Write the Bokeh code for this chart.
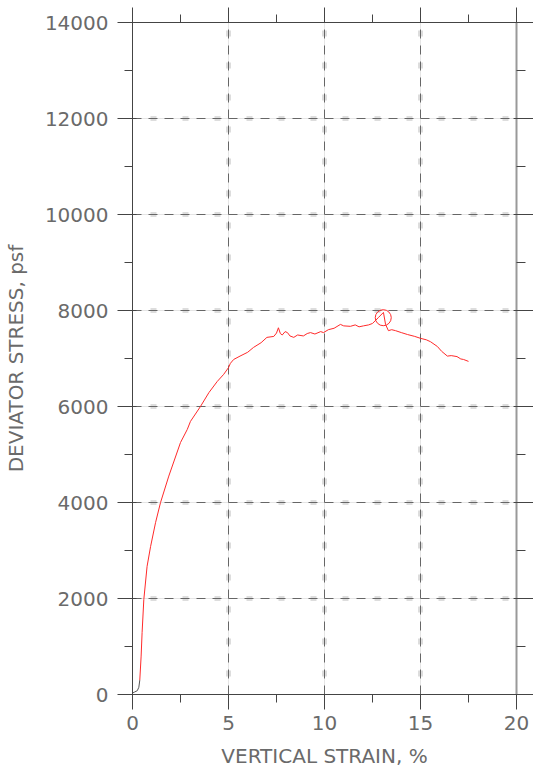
from bokeh.plotting import figure
from bokeh.models import Range1d, LinearAxis, SingleIntervalTicker, Grid, CustomJSTickFormatter, Spacer
from bokeh.layouts import column
from bokeh.embed import file_html
from bokeh.resources import INLINE

# ---- data ----
strain_start = [0.0, 0.1, 0.25, 0.33, 0.38]
stress_start = [30, 50, 80, 150, 300]

strain = [0.38, 0.45, 0.5, 0.59, 0.76, 0.94, 1.2, 1.46, 1.89, 2.5, 2.85, 3.02, 3.54,
          3.98, 4.41, 4.75, 5.0, 5.1, 5.27, 5.6, 6.0, 6.3, 6.7, 7.0, 7.36, 7.5, 7.6,
          7.7, 7.8, 7.95, 8.07, 8.2, 8.4, 8.6, 8.9, 9.1, 9.27, 9.5, 9.8, 9.95, 10.2,
          10.5, 10.83, 11.0, 11.35, 11.6, 11.8, 12.03, 12.3, 12.5, 12.8, 13.07, 13.18,
          13.33, 13.5, 13.7, 14.0, 14.32, 14.7, 15.0, 15.3, 15.52, 15.88, 16.1, 16.4,
          16.6, 16.9, 17.1, 17.24, 17.5]
stress = [300, 800, 1290, 1980, 2670, 3080, 3580, 4000, 4550, 5250, 5520, 5690, 6000,
          6290, 6520, 6670, 6810, 6900, 6980, 7050, 7130, 7230, 7330, 7440, 7460, 7530, 7640,
          7520, 7490, 7560, 7540, 7470, 7440, 7490, 7470, 7520, 7540, 7510, 7560, 7540, 7600,
          7630, 7710, 7680, 7670, 7700, 7660, 7680, 7700, 7730, 7850, 7960, 7710,
          7580, 7600, 7580, 7540, 7500, 7460, 7420, 7390, 7350, 7250, 7150, 7050,
          7060, 7040, 6990, 6980, 6940]

peak_strain = [13.06]
peak_stress = [7850]

FONT = "DejaVu Sans"
TXT = "#6a6a6a"
AX = "#444444"

p = figure(frame_width=384, frame_height=672, output_backend="svg", toolbar_location=None,
           x_range=Range1d(0, 20), y_range=Range1d(0, 14000),
           x_axis_location=None, y_axis_location=None,
           min_border_left=0, min_border_right=0, min_border_top=0, min_border_bottom=0)
p.outline_line_color = None
p.background_fill_color = "white"
p.border_fill_color = "white"

def style(ax, color=AX, width=1, major_out=15, major_in=0, minor_out=8):
    ax.axis_line_color = color
    ax.axis_line_width = width
    ax.major_tick_line_color = color
    ax.minor_tick_line_color = color
    ax.major_tick_out = major_out
    ax.major_tick_in = major_in
    ax.minor_tick_out = minor_out
    ax.minor_tick_in = 0
    ax.major_label_text_font = FONT
    ax.major_label_text_font_size = "20px"
    ax.major_label_text_color = TXT
    ax.axis_label_text_font = FONT
    ax.axis_label_text_font_size = "20px"
    ax.axis_label_text_font_style = "normal"
    ax.axis_label_text_color = TXT

xt = SingleIntervalTicker(interval=5, num_minor_ticks=2)
yt = SingleIntervalTicker(interval=2000, num_minor_ticks=2)

bottom = LinearAxis(ticker=xt, axis_label="VERTICAL STRAIN, %")
style(bottom)
bottom.major_label_standoff = 6
bottom.axis_label_standoff = 11
p.add_layout(bottom, "below")

left = LinearAxis(ticker=yt, axis_label="DEVIATOR STRESS, psf")
style(left, major_in=4)
left.major_label_standoff = 9
left.axis_label_standoff = 14
p.add_layout(left, "left")

empty = CustomJSTickFormatter(code="return ''")

top = LinearAxis(ticker=SingleIntervalTicker(interval=5, num_minor_ticks=2), formatter=empty)
style(top)
top.major_label_standoff = 0
top.major_label_text_font_size = "0px"
p.add_layout(top, "above")

right = LinearAxis(ticker=SingleIntervalTicker(interval=2000, num_minor_ticks=2), formatter=empty)
style(right, color="#999999", width=2, major_out=17, major_in=3, minor_out=9)
right.major_tick_line_color = "#444444"
right.minor_tick_line_color = "#444444"
right.major_label_standoff = 0
right.major_label_text_font_size = "0px"
p.add_layout(right, "right")

# grid: light blurred blobs + dark dashes
for dim, tk in ((0, xt), (1, yt)):
    g_light = Grid(dimension=dim, ticker=tk, grid_line_color="#dddddd", grid_line_width=5,
                   grid_line_dash="6 26", grid_line_dash_offset=14)
    g_dark = Grid(dimension=dim, ticker=tk, grid_line_color="#666666", grid_line_width=1,
                  grid_line_dash="9 7")
    p.add_layout(g_light)
    p.add_layout(g_dark)

p.line(strain_start, stress_start, line_color="#555555", line_width=1)
p.line(strain, stress, line_color="#ff2a2a", line_width=1)
p.scatter(peak_strain, peak_stress, marker="circle", size=16, fill_color=None,
          line_color="#ff2a2a", line_width=1)

layout = column(Spacer(height=7), p, spacing=0)
open("out.html", "w").write(file_html(layout, INLINE))
